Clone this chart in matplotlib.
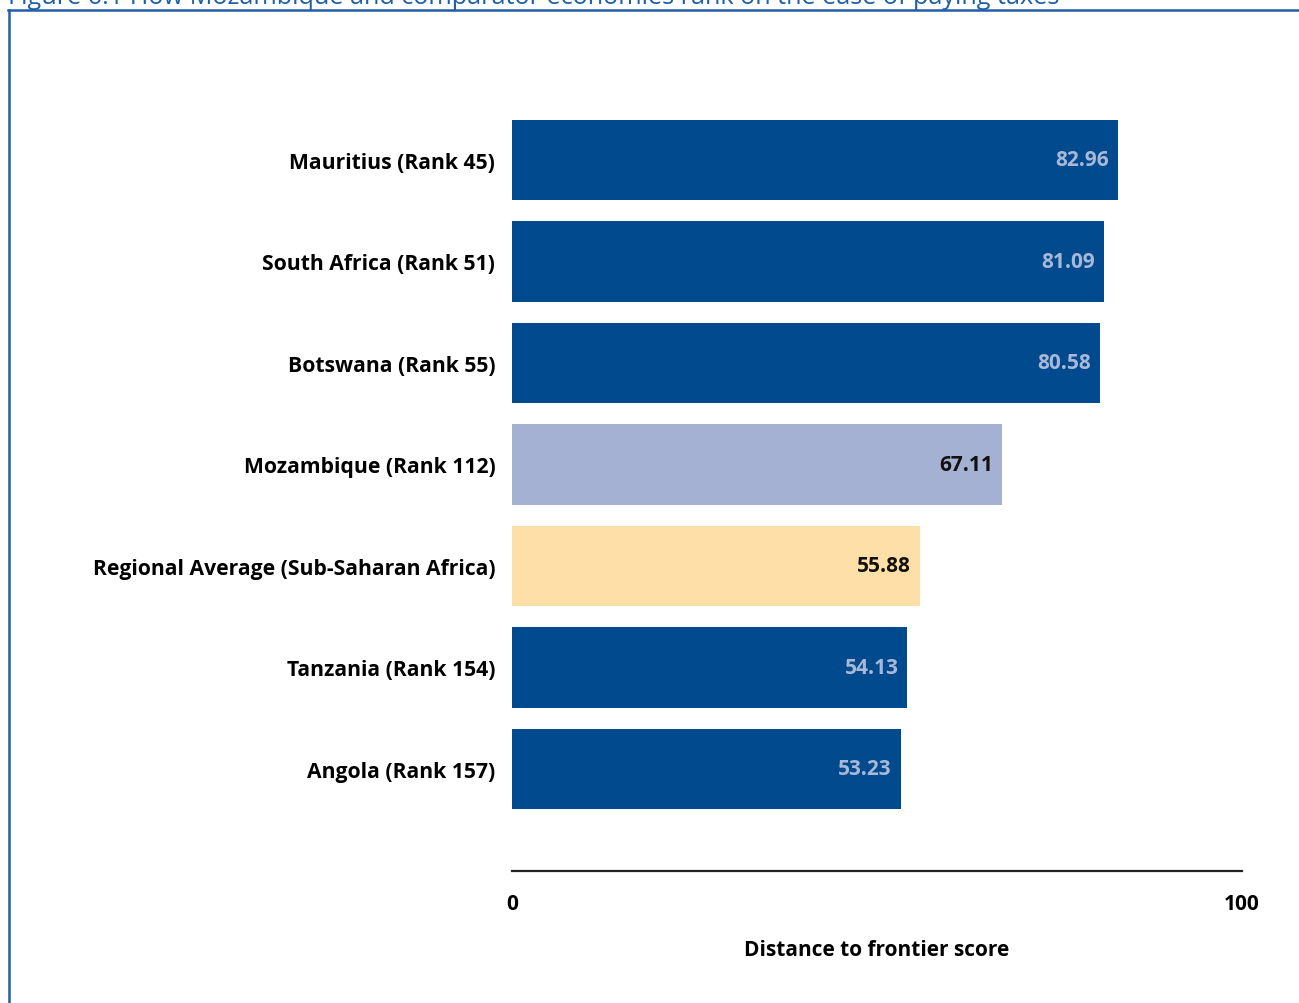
import numpy as np
from matplotlib import pyplot as plt
from matplotlib.lines import Line2D

labels = ['Mauritius (Rank 45)', 'South Africa (Rank 51)', 'Botswana (Rank 55)',
          'Mozambique (Rank 112)', 'Regional Average (Sub-Saharan Africa)',
          'Tanzania (Rank 154)', 'Angola (Rank 157)']
scores = [82.96, 81.09, 80.58, 67.11, 55.88, 54.13, 53.23]
bar_colors = ['#004a8d', '#004a8d', '#004a8d', '#a5b1d3', '#ffdfa8', '#004a8d', '#004a8d']
value_colors = ['#a9b8d8', '#a9b8d8', '#a9b8d8', '#111111', '#111111', '#a9b8d8', '#a9b8d8']

title = 'Figure 6.1 How Mozambique and comparator economies rank on the ease of paying taxes'
frame_blue = '#1f5fa8'

fig = plt.figure(figsize=(12.99, 10.04), dpi=100)
# axes: x=0 at 512px, x=100 at 1242px; bars from y=122 to 811, axis line at 872
W, H = 1299, 1004
ax = fig.add_axes([512 / W, 1 - 872 / H, 730 / W, (872 - 80) / H])

y = np.arange(len(labels))
ax.barh(y, scores, height=0.79, color=bar_colors)
ax.set_xlim(0, 100)
# bar centers at 161 ... 770 px, spacing ~101.5
ax.set_ylim(len(labels) - 1 + (872 - 770) / 101.5, -(161 - 80) / 101.5)

for i, v in enumerate(scores):
    ax.text(v - 1.2, i, f'{v:.2f}', ha='right', va='center', fontsize=15,
            fontweight='bold', color=value_colors[i], family='Open Sans')

ax.set_yticks(y)
ax.set_yticklabels(labels, fontsize=15.2, fontweight='bold', family='Open Sans')
ax.tick_params(axis='y', length=0, pad=12)
ax.set_xticks([0, 100])
ax.set_xticklabels(['0', '100'], fontsize=15, fontweight='bold', family='Open Sans')
ax.tick_params(axis='x', length=0, pad=16)
ax.set_xlabel('Distance to frontier score', fontsize=15, fontweight='bold',
              family='Open Sans', labelpad=18)
for s in ['top', 'right', 'left']:
    ax.spines[s].set_visible(False)
ax.spines['bottom'].set_linewidth(1.6)
ax.spines['bottom'].set_color('#222222')

# frame of the figure box, cut at the top like the source page
fig.add_artist(Line2D([8 / W, 1], [1 - 11 / H, 1 - 11 / H], color=frame_blue, lw=1.8))
fig.add_artist(Line2D([8.5 / W, 8.5 / W], [0, 1 - 11 / H], color=frame_blue, lw=1.8))
fig.text(8 / W, 1 - 4 / H, title, fontsize=18.2, color=frame_blue, family='Open Sans',
         ha='left', va='baseline')

fig.savefig('out.png', dpi=100)
